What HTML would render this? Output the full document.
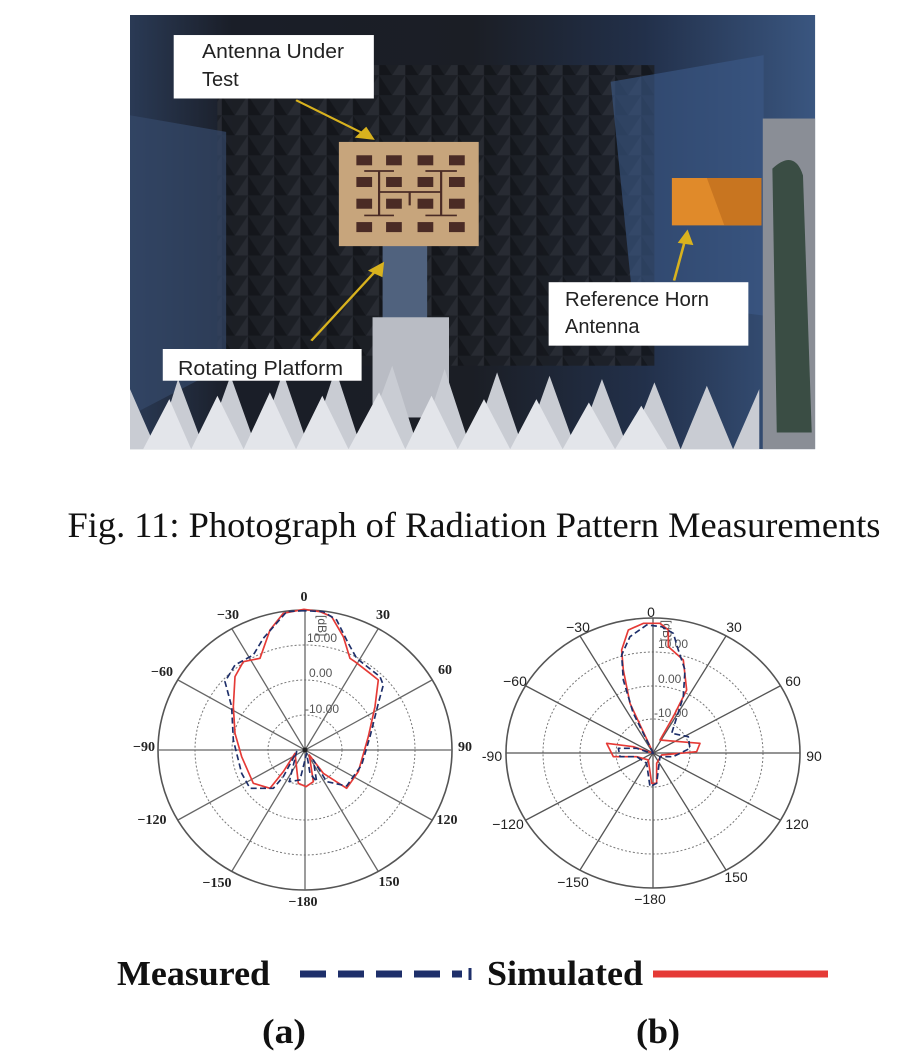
<!DOCTYPE html>
<html><head><meta charset="utf-8"><style>
html,body{margin:0;padding:0;background:#fff;}
svg{display:block}
</style></head><body>
<svg width="922" height="1064" viewBox="0 0 922 1064" xmlns="http://www.w3.org/2000/svg">
<defs>
<linearGradient id="bg" x1="0" y1="0" x2="1" y2="0">
<stop offset="0" stop-color="#2a3a55"/><stop offset="0.15" stop-color="#1a1e28"/><stop offset="0.5" stop-color="#1b1e25"/><stop offset="0.75" stop-color="#22304a"/><stop offset="1" stop-color="#3a5680"/>
</linearGradient>
<radialGradient id="lt" cx="0.5" cy="0" r="0.5"><stop offset="0" stop-color="#fff6d0"/><stop offset="1" stop-color="#fff6d0" stop-opacity="0"/></radialGradient>
<pattern id="pyr" width="60" height="60" patternUnits="userSpaceOnUse"><rect width="60" height="60" fill="#1c1f25"/><path d="M0 60 L30 0 L60 60 Z" fill="#2a2d34"/><path d="M30 0 L60 60 L30 60Z" fill="#131519"/></pattern>
<clipPath id="ph"><rect x="0" y="0" width="1568" height="1300"/></clipPath>
</defs>
<!-- photo -->
<g transform="translate(130,15) scale(0.437,0.334)">
<g clip-path="url(#ph)">
<rect x="0" y="0" width="1568" height="1300" fill="url(#bg)"/>
<rect x="200" y="150" width="1000" height="900" fill="url(#pyr)" opacity="0.85"/>
<path d="M0 300 L220 350 L220 1050 L0 1200Z" fill="#34486a" opacity="0.7"/>
<path d="M1100 200 L1450 120 L1450 900 L1150 850Z" fill="#3c5a88" opacity="0.6"/>
<ellipse cx="690" cy="0" rx="160" ry="80" fill="url(#lt)"/>
<rect x="578" y="690" width="102" height="220" fill="#50627e"/>
<rect x="555" y="905" width="175" height="300" fill="#b9bcc4"/>
<path d="M0 1300 L0 1120 L60 1300 L110 1090 L170 1300 L230 1080 L290 1300 L350 1070 L410 1300 L470 1060 L530 1300 L600 1050 L660 1300 L720 1060 L780 1300 L840 1070 L900 1300 L960 1080 L1020 1300 L1080 1090 L1140 1300 L1200 1100 L1260 1300 L1320 1110 L1380 1300 L1440 1120 L1440 1300Z" fill="#c9ccd3"/>
<path d="M30 1300 L90 1150 L140 1300 L200 1140 L260 1300 L320 1130 L380 1300 L440 1140 L500 1300 L570 1130 L630 1300 L690 1140 L750 1300 L810 1150 L870 1300 L930 1150 L990 1300 L1050 1160 L1110 1300 L1170 1170 L1230 1300Z" fill="#e3e5ea"/>
<rect x="1448" y="310" width="120" height="990" fill="#8a8e96"/>
<path d="M1470 460 Q1520 400 1540 480 L1560 1250 L1480 1250Z" fill="#3a4d44"/>
<path d="M1240 488 L1445 488 L1445 630 L1240 630Z" fill="#e08a2a"/>
<path d="M1320 488 L1445 488 L1445 630 L1360 630Z" fill="#c87520"/>
<rect x="478" y="380" width="320" height="312" fill="#c7a57c"/>
<g fill="#4a2b25">
<rect x="518" y="420" width="36" height="30"/><rect x="586" y="420" width="36" height="30"/><rect x="658" y="420" width="36" height="30"/><rect x="730" y="420" width="36" height="30"/>
<rect x="518" y="485" width="36" height="30"/><rect x="586" y="485" width="36" height="30"/><rect x="658" y="485" width="36" height="30"/><rect x="730" y="485" width="36" height="30"/>
<rect x="518" y="550" width="36" height="30"/><rect x="586" y="550" width="36" height="30"/><rect x="658" y="550" width="36" height="30"/><rect x="730" y="550" width="36" height="30"/>
<rect x="518" y="620" width="36" height="30"/><rect x="586" y="620" width="36" height="30"/><rect x="658" y="620" width="36" height="30"/><rect x="730" y="620" width="36" height="30"/>
</g>
<g stroke="#4a2b25" stroke-width="5" fill="none">
<path d="M536 467 H604 M570 467 V600 M536 600 H604 M570 530 H710 M676 467 H748 M712 467 V600 M676 600 H748 M640 530 V570"/>
</g>
<rect x="100" y="60" width="458" height="190" fill="#fff"/>
<rect x="958" y="800" width="457" height="190" fill="#fff"/>
<rect x="75" y="1000" width="455" height="95" fill="#fff"/>
<g stroke="#d8b21e" stroke-width="6" fill="#d8b21e">
<line x1="380" y1="255" x2="545" y2="362"/><path d="M555 370 L520 365 L540 340Z"/>
<line x1="415" y1="975" x2="570" y2="755"/><path d="M578 745 L575 780 L550 765Z"/>
<line x1="1245" y1="795" x2="1272" y2="665"/><path d="M1275 650 L1285 685 L1258 680Z"/>
</g>
</g>
</g>
<g font-family="Liberation Sans, sans-serif" font-size="20" fill="#222" textLength="0">
<text x="202" y="58" textLength="142" lengthAdjust="spacingAndGlyphs">Antenna Under</text><text x="202" y="86">Test</text>
<text x="565" y="306" textLength="144" lengthAdjust="spacingAndGlyphs">Reference Horn</text><text x="565" y="333">Antenna</text>
<text x="178" y="375" textLength="165" lengthAdjust="spacingAndGlyphs">Rotating Platform</text>
</g>
<text x="474" y="537" text-anchor="middle" font-family="Liberation Serif, serif" font-size="36" fill="#111" textLength="813" lengthAdjust="spacingAndGlyphs">Fig. 11: Photograph of Radiation Pattern Measurements</text>

<!-- plot a -->
<g transform="translate(305,750)" fill="none">
<ellipse rx="147" ry="140" stroke="#555" stroke-width="1.6"/>
<g stroke="#777" stroke-dasharray="2,2" stroke-width="1"><ellipse rx="110" ry="105"/><ellipse rx="73" ry="70"/><ellipse rx="37" ry="35"/></g>
<g stroke="#666" stroke-width="1.3">
<line x1="-147" y1="0" x2="147" y2="0"/><line x1="0" y1="-140" x2="0" y2="140"/>
<line x1="-73" y1="-121" x2="73" y2="121"/><line x1="73" y1="-121" x2="-73" y2="121"/>
<line x1="-127" y1="-70" x2="127" y2="70"/><line x1="127" y1="-70" x2="-127" y2="70"/>
</g>
</g>
<g font-family="Liberation Sans, sans-serif" font-size="12" fill="#555">
<text x="307" y="642">10.00</text><text x="309" y="677">0.00</text><text x="305" y="713">-10.00</text>
<text transform="translate(318,615) rotate(90)">[dB]</text>
</g>
<g transform="translate(150,580) scale(0.3333)" fill="none" stroke-width="5" stroke-linejoin="round">
<path stroke="#e53a36" d="M462 88 L400 100 L360 150 L330 235 L280 245 L255 290 L250 380 L255 460 L275 530 L310 610 L360 625 L400 575 L435 520 L445 610 L468 620 L490 605 L478 525 L520 580 L590 625 L625 575 L655 470 L675 380 L685 300 L660 280 L615 245 L600 235 L580 170 L545 110 L510 95 Z"/>
<path stroke="#1e2f6a" stroke-dasharray="18,10" d="M462 92 L410 95 L340 175 L310 225 L255 255 L225 305 L245 380 L250 480 L275 580 L300 625 L370 625 L400 590 L440 515 L418 605 L450 600 L470 520 L480 580 L500 605 L490 540 L530 605 L590 618 L635 555 L660 470 L685 370 L700 315 L690 290 L620 235 L595 190 L560 120 L520 95 Z"/>
</g>
<circle cx="305" cy="750" r="2.5" fill="#222"/>
<g font-family="Liberation Serif, serif" font-weight="bold" font-size="14" fill="#222" text-anchor="middle">
<text x="304" y="601">0</text><text x="228" y="619">−30</text><text x="383" y="619">30</text>
<text x="162" y="676">−60</text><text x="445" y="674">60</text>
<text x="144" y="751">−90</text><text x="465" y="751">90</text>
<text x="152" y="824">−120</text><text x="447" y="824">120</text>
<text x="217" y="887">−150</text><text x="389" y="886">150</text><text x="303" y="906">−180</text>
</g>

<!-- plot b -->
<g transform="translate(653,753)" fill="none">
<ellipse rx="147" ry="135" stroke="#555" stroke-width="1.6"/>
<g stroke="#777" stroke-dasharray="2,2" stroke-width="1"><ellipse rx="110" ry="101"/><ellipse rx="73" ry="67"/><ellipse rx="37" ry="34"/></g>
<g stroke="#555" stroke-width="1.3">
<line x1="-147" y1="0" x2="147" y2="0"/><line x1="0" y1="-135" x2="0" y2="135"/>
<line x1="-73" y1="-117" x2="73" y2="117"/><line x1="73" y1="-117" x2="-73" y2="117"/>
<line x1="-127" y1="-67" x2="127" y2="67"/><line x1="127" y1="-67" x2="-127" y2="67"/>
</g>
</g>
<g font-family="Liberation Sans, sans-serif" font-size="12" fill="#555">
<text x="658" y="648">10.00</text><text x="658" y="683">0.00</text><text x="654" y="717">-10.00</text>
<text transform="translate(663,620) rotate(90)">[dB]</text>
</g>
<g transform="translate(480,590) scale(0.3333)" fill="none" stroke-width="5" stroke-linejoin="round">
<path stroke="#e53a36" d="M520 490 L450 340 L430 240 L425 180 L445 120 L490 100 L540 100 L565 120 L565 170 L610 210 L620 300 L580 380 L540 450 L600 455 L660 460 L650 485 L545 495 L530 520 L530 580 L515 580 L505 510 L470 500 L400 500 L380 460 L460 470 L490 480 Z"/>
<path stroke="#1e2f6a" stroke-dasharray="18,10" d="M520 490 L460 370 L430 270 L425 195 L450 140 L500 105 L545 110 L580 130 L595 180 L615 240 L610 320 L575 430 L625 440 L630 475 L580 500 L540 500 L530 580 L510 590 L500 520 L470 500 L420 500 L415 475 L470 475 L500 485 Z"/>
</g>
<g font-family="Liberation Sans, sans-serif" font-size="14" fill="#222" text-anchor="middle">
<text x="651" y="617">0</text><text x="578" y="632">−30</text><text x="734" y="632">30</text>
<text x="515" y="686">−60</text><text x="793" y="686">60</text>
<text x="492" y="761">-90</text><text x="814" y="761">90</text>
<text x="508" y="829">−120</text><text x="797" y="829">120</text>
<text x="573" y="887">−150</text><text x="736" y="882">150</text><text x="650" y="904">−180</text>
</g>

<!-- legend -->
<g font-family="Liberation Serif, serif" font-weight="bold" font-size="35" fill="#111">
<text x="117" y="985" textLength="153" lengthAdjust="spacingAndGlyphs">Measured</text>
<text x="487" y="985" textLength="156" lengthAdjust="spacingAndGlyphs">Simulated</text>
<text x="262" y="1043" textLength="44" lengthAdjust="spacingAndGlyphs">(a)</text>
<text x="636" y="1043" textLength="44" lengthAdjust="spacingAndGlyphs">(b)</text>
</g>
<line x1="300" y1="974" x2="462" y2="974" stroke="#1e2f6a" stroke-width="7" stroke-dasharray="26,12"/>
<line x1="470" y1="968" x2="470" y2="980" stroke="#1e2f6a" stroke-width="3"/>
<line x1="653" y1="974" x2="828" y2="974" stroke="#e53a36" stroke-width="7"/>
</svg>
</body></html>
